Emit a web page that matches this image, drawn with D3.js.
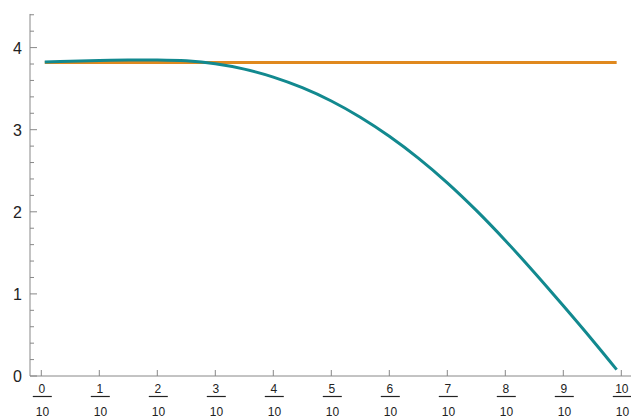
<!DOCTYPE html>
<html><head><meta charset="utf-8">
<script src="https://cdn.jsdelivr.net/npm/d3@7"></script>
<style>body{margin:0;background:#fff;}svg{display:block;}</style>
</head><body>
<svg id="c" width="631" height="419"></svg>
<script>
// data
const xs = [0.006,0.05,0.1,0.15,0.2,0.25,0.3,0.35,0.4,0.45,0.5,0.55,0.6,0.65,0.7,0.75,0.8,0.85,0.9,0.95,0.992];
const tealValues = [3.824,3.834,3.842,3.848,3.850,3.839,3.803,3.738,3.641,3.512,3.350,3.152,2.920,2.654,2.353,2.017,1.651,1.261,0.855,0.439,0.078];
const orangeValues = [3.82,3.82];
const orangeXs = [0.006,0.992];
const yMajor = [0,1,2,3,4];
const yMinor = [0.2,0.4,0.6,0.8,1.2,1.4,1.6,1.8,2.2,2.4,2.6,2.8,3.2,3.4,3.6,3.8,4.2,4.4];
const xTickNums = ["0","1","2","3","4","5","6","7","8","9","10"];
const xTickDen = "10";

const svg = d3.select("#c");
const x = d3.scaleLinear().domain([0,1]).range([41.3,621.3]);
const y = d3.scaleLinear().domain([0,4]).range([376,47.6]);
const axisColor = "#888";
const font = "'Liberation Sans', Arial, sans-serif";

// axes lines
svg.append("line").attr("x1",30).attr("x2",631).attr("y1",y(0)).attr("y2",y(0)).attr("stroke",axisColor).attr("stroke-width",1);
svg.append("line").attr("x1",30).attr("x2",30).attr("y1",y(0)).attr("y2",y(4.41)).attr("stroke",axisColor).attr("stroke-width",1);

// y ticks
svg.selectAll(".ymaj").data(yMajor).enter().append("line")
  .attr("x1",30).attr("x2",37).attr("y1",d=>y(d)).attr("y2",d=>y(d)).attr("stroke",axisColor);
svg.selectAll(".ymin").data(yMinor).enter().append("line")
  .attr("x1",30).attr("x2",34).attr("y1",d=>y(d)).attr("y2",d=>y(d)).attr("stroke",axisColor);
svg.selectAll(".ylab").data(yMajor).enter().append("text")
  .attr("x",22).attr("y",d=>y(d)+6).attr("text-anchor","end")
  .attr("font-family",font).attr("font-size",16).attr("fill","#222").text(d=>d);

// x ticks with fraction labels
const xt = svg.selectAll(".xt").data(xTickNums).enter().append("g")
  .attr("transform",(d,i)=>`translate(${x(i/10)},0)`);
xt.append("line").attr("x1",0).attr("x2",0).attr("y1",y(0)).attr("y2",y(0)-6).attr("stroke",axisColor);
xt.append("text").attr("x",0.5).attr("y",392.5).attr("text-anchor","middle")
  .attr("font-family",font).attr("font-size",12).attr("fill","#222").text(d=>d);
xt.append("line").attr("x1",-8.5).attr("x2",10.5).attr("y1",396.5).attr("y2",396.5).attr("stroke","#222").attr("stroke-width",1.2);
xt.append("text").attr("x",1.2).attr("y",415.5).attr("text-anchor","middle")
  .attr("font-family",font).attr("font-size",12).attr("fill","#222").text(xTickDen);

// lines
const line = d3.line().x(d=>x(d[0])).y(d=>y(d[1])).curve(d3.curveCatmullRom.alpha(0.5));
svg.append("path").datum(orangeXs.map((v,i)=>[v,orangeValues[i]]))
  .attr("d",d3.line().x(d=>x(d[0])).y(d=>y(d[1])))
  .attr("fill","none").attr("stroke","#E0891E").attr("stroke-width",3);
svg.append("path").datum(xs.map((v,i)=>[v,tealValues[i]]))
  .attr("d",line).attr("fill","none").attr("stroke","#12898F").attr("stroke-width",3);
</script>
</body></html>
